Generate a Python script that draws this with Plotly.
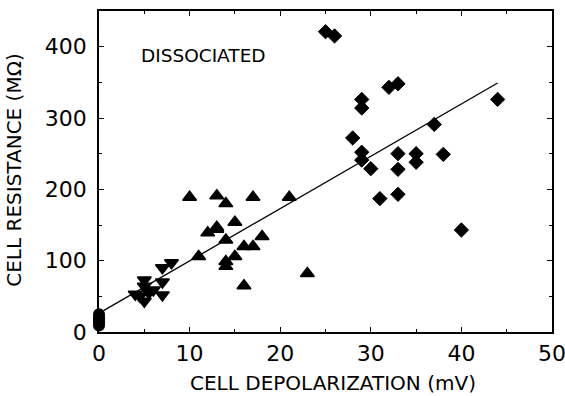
import plotly.graph_objects as go

# ---- data ----
diamond_x = [25, 26, 44, 32, 33, 29, 29, 28, 29, 29, 30, 31, 33, 33, 33, 35, 35, 37, 38, 40]
diamond_y = [421, 415, 326, 343, 348, 326, 314, 272, 252, 241, 229, 187, 250, 228, 193, 250, 238, 291, 249, 143]

tri_up_x = [10, 13, 14, 17, 21, 12, 13, 13, 14, 15, 11, 14, 14, 15, 16, 17, 18, 16, 23]
tri_up_y = [189, 191, 180, 189, 189, 139, 144, 147, 129, 154, 106, 99, 92, 106, 120, 120, 134, 65, 82]

tri_dn_x = [8, 7, 5, 4, 5, 6, 7, 7, 5, 4.5, 5.5]
tri_dn_y = [97, 90, 73, 53, 43, 59, 70, 52, 64, 50, 55]

circ_x = [0, 0, 0, 0, 0, 0]
circ_y = [9, 12, 15, 18, 21, 25]

fit_x = [0.5, 44]
fit_y = [30, 349]

x_ticks = [0, 10, 20, 30, 40, 50]
y_ticks = [0, 100, 200, 300, 400]

FONT = "DejaVu Sans"

fig = go.Figure()
fig.add_trace(go.Scatter(x=fit_x, y=fit_y, mode="lines",
                         line=dict(color="black", width=1.3), showlegend=False))
fig.add_trace(go.Scatter(x=circ_x, y=circ_y, mode="markers", cliponaxis=False,
                         marker=dict(symbol="circle", size=12, color="black"), showlegend=False))
fig.add_trace(go.Scatter(x=tri_dn_x, y=tri_dn_y, mode="markers",
                         marker=dict(symbol="triangle-down", size=12, color="black",
                                     line=dict(color="black", width=1.5)), showlegend=False))
fig.add_trace(go.Scatter(x=tri_up_x, y=tri_up_y, mode="markers",
                         marker=dict(symbol="triangle-up", size=12, color="black",
                                     line=dict(color="black", width=1.5)), showlegend=False))
fig.add_trace(go.Scatter(x=diamond_x, y=diamond_y, mode="markers",
                         marker=dict(symbol="diamond", size=11, color="black",
                                     line=dict(color="black", width=1)), showlegend=False))

axis_common = dict(
    showgrid=False, zeroline=False, showline=True, linecolor="black", linewidth=1.5,
    mirror="ticks", ticks="inside", ticklen=5, tickwidth=1, tickcolor="black",
    tickfont=dict(family=FONT, size=22, color="black"), ticklabeloverflow="allow",
    automargin=False,
)

fig.update_xaxes(range=[0, 50], tickvals=x_ticks, ticklabelstandoff=1,
                 minor=dict(dtick=5, tick0=0, ticks="inside", ticklen=3, tickcolor="black", showgrid=False),
                 **axis_common)
fig.update_yaxes(range=[0, 450], tickvals=y_ticks, ticklabelstandoff=6,
                 minor=dict(dtick=50, tick0=0, ticks="inside", ticklen=3, tickcolor="black", showgrid=False),
                 **axis_common)

fig.update_layout(
    width=565, height=396, autosize=False,
    margin=dict(l=99, r=13, t=11, b=64),
    paper_bgcolor="white", plot_bgcolor="white",
    font=dict(family=FONT, color="black"),
    hovermode=False,
    annotations=[
        dict(text="CELL DEPOLARIZATION (mV)", xref="paper", yref="paper",
             x=0.517, y=-0.159, xanchor="center", yanchor="middle", showarrow=False,
             font=dict(family=FONT, size=20, color="black")),
        dict(text="CELL RESISTANCE (MΩ)", xref="paper", yref="paper",
             x=-0.188, y=0.505, xanchor="center", yanchor="middle", textangle=-90,
             showarrow=False, font=dict(family=FONT, size=20, color="black")),
        dict(text="DISSOCIATED", xref="x", yref="y", x=11.56, y=387.5,
             xanchor="center", yanchor="middle", showarrow=False,
             font=dict(family=FONT, size=18.5, color="black")),
    ],
)

# remove the browser's default 8px page margin so the figure fills the window exactly
fig.write_html("out.html", config={"displayModeBar": False},
               post_script="document.body.style.margin='0';")
